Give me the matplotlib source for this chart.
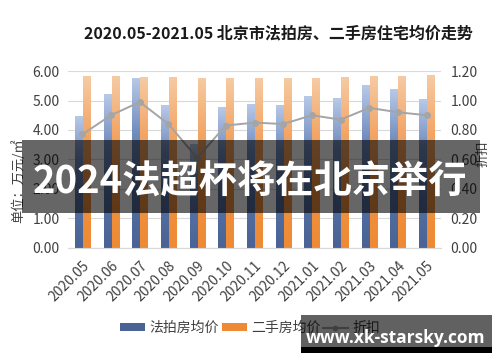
import numpy as np
import matplotlib
matplotlib.use("Agg")
import matplotlib.pyplot as plt
from matplotlib.colors import LinearSegmentedColormap
from matplotlib.patches import Rectangle, Patch
from matplotlib.lines import Line2D

plt.rcParams['font.family'] = ['Noto Sans CJK SC', 'DejaVu Sans']

months = ["2020.05", "2020.06", "2020.07", "2020.08", "2020.09", "2020.10", "2020.11",
          "2020.12", "2021.01", "2021.02", "2021.03", "2021.04", "2021.05"]
auction_price = [4.47, 5.22, 5.78, 4.85, 3.52, 4.77, 4.88, 4.86, 5.16, 5.07, 5.52, 5.40, 5.05]
resale_price = [5.82, 5.82, 5.80, 5.80, 5.78, 5.75, 5.75, 5.75, 5.75, 5.80, 5.83, 5.83, 5.86]
discount = [0.77, 0.90, 0.99, 0.84, 0.61, 0.83, 0.85, 0.84, 0.90, 0.87, 0.95, 0.92, 0.90]

title = "2020.05-2021.05 北京市法拍房、二手房住宅均价走势"
left_label = "单位：万元/㎡"
right_label = "折扣"
legend_labels = ["法拍房均价", "二手房均价", "折扣"]
banner_text = "2024法超杯将在北京举行"
site_text = "www.xk-starsky.com"

fig = plt.figure(figsize=(5.0, 3.62), dpi=100)
ax = fig.add_axes([0.136, 0.3157, 0.746, 0.488])
ax2 = ax.twinx()

x = np.arange(len(months))
w = 0.245
blue_bars = ax.bar(x - 0.14, auction_price, width=w, color='none', zorder=3)
orange_bars = ax.bar(x + 0.14, resale_price, width=w, color='none', zorder=3)


def grad_fill(bars, colors):
    cmap = LinearSegmentedColormap.from_list('g', colors)
    g = np.linspace(0, 1, 200).reshape(-1, 1)
    for b in bars:
        bx, by, bw, bh = b.get_x(), b.get_y(), b.get_width(), b.get_height()
        im = ax.imshow(g, extent=[bx, bx + bw, by, by + bh], origin='lower',
                       aspect='auto', cmap=cmap, zorder=3, interpolation='bilinear')
        im.set_clip_path(b)


grad_fill(blue_bars, ['#4a6394', '#5470a3', '#6f8bbd', '#b8c9e8'])
grad_fill(orange_bars, ['#ee8a35', '#f1913f', '#f3a565', '#f6cba3'])

ax.set_xlim(-0.5, len(months) - 0.5)
ax.set_ylim(0, 6)
ax.set_yticks(np.arange(0, 6.01, 1))
ax.set_yticklabels([f"{v:.2f}" for v in np.arange(0, 6.01, 1)])
ax.grid(axis='y', color='#d9d9d9', linewidth=0.8, zorder=0)
ax.set_axisbelow(True)
ax.set_xticks(x)
ax.set_xticklabels(months, rotation=45, ha='right', rotation_mode='anchor')

ax2.plot(x, discount, color='#a5a5a5', linewidth=1.4, marker='o', markersize=4, zorder=5)
ax2.set_ylim(0, 1.2)
ax2.set_yticks(np.arange(0, 1.21, 0.2))
ax2.set_yticklabels([f"{v:.2f}" for v in np.arange(0, 1.21, 0.2)])

for a in (ax, ax2):
    for s in ['top', 'left', 'right']:
        a.spines[s].set_visible(False)
    a.spines['bottom'].set_color('#d9d9d9')
    a.tick_params(length=0, labelsize=10, labelcolor='#404040')
ax.tick_params(axis='x', pad=8, labelsize=10)
ax.tick_params(axis='y', pad=6)
ax2.tick_params(axis='y', pad=7)

fig.text(0.036, 0.5, left_label, rotation=90, ha='center', va='center', fontsize=9.5, color='#404040')
fig.text(0.966, 0.575, right_label, rotation=90, ha='center', va='center', fontsize=9.5, color='#404040')

fig.text(0.557, 0.909, title, ha='center', va='center', fontsize=11.5, fontweight='bold', color='#1a1a1a')

handles = [Patch(facecolor='#4a6394'), Patch(facecolor='#ee8a35'),
           Line2D([0], [0], color='#a5a5a5', marker='o', markersize=3, markevery=[0, -1])]
fig.legend(handles, legend_labels, loc='center', bbox_to_anchor=(0.5, 0.094), ncol=3,
           frameon=False, fontsize=10, handlelength=1.8, handleheight=0.4,
           columnspacing=0.2, handletextpad=0.3, labelcolor='#404040')

# overlay banner
fig.add_artist(Rectangle((0.044, 0.4116), 0.916, 0.2017, transform=fig.transFigure,
                         facecolor='black', alpha=0.6, edgecolor='none', zorder=10))
fig.text(0.5, 0.497, banner_text, ha='center', va='center', fontsize=27.5,
         fontweight='bold', color='white', zorder=11)

# site watermark box
fig.add_artist(Rectangle((0.602, 0.0414), 0.382, 0.0884, transform=fig.transFigure,
                         facecolor='black', alpha=0.62, edgecolor='none', zorder=10))
fig.add_artist(Rectangle((0.602, 0.025), 0.382, 0.0164, transform=fig.transFigure,
                         facecolor='black', edgecolor='none', zorder=10))
fig.text(0.792, 0.067, site_text, ha='center', va='center', fontsize=12.5,
         fontweight='bold', color='white', family='Open Sans', zorder=11)

fig.savefig('out.png', dpi=100)
